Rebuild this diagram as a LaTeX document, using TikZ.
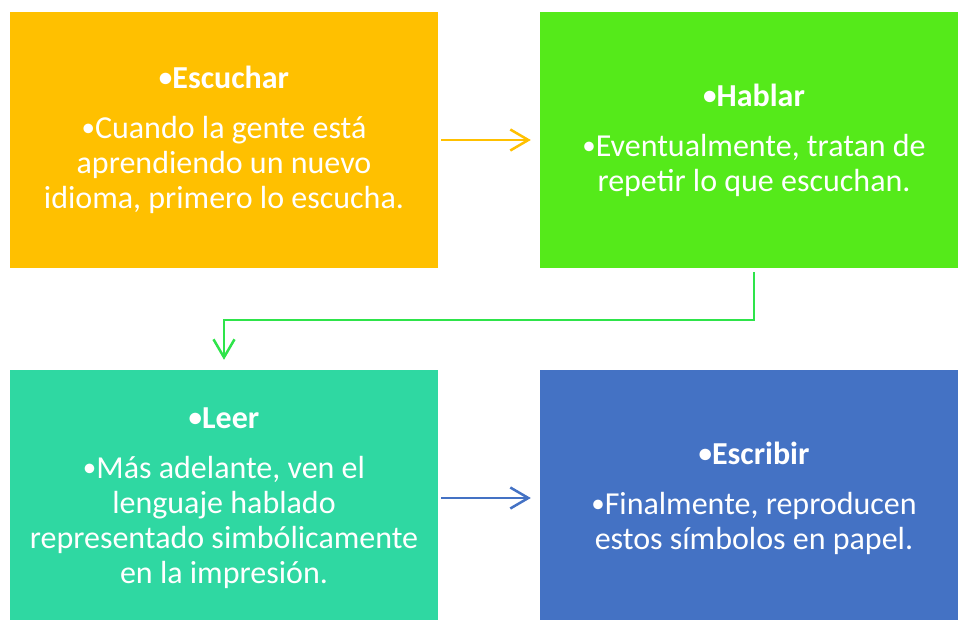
\documentclass[tikz,border=0pt]{standalone}
\usepackage{fontspec}
\setmainfont{Carlito}
\usetikzlibrary{positioning, arrows.meta}
\definecolor{naranja}{HTML}{FFC000}
\definecolor{verde}{HTML}{55EA1A}
\definecolor{verdelinea}{HTML}{2EE44A}
\definecolor{turquesa}{HTML}{2FD8A2}
\definecolor{azul}{HTML}{4472C4}
\newcommand{\bala}{\raisebox{2pt}{\fontsize{27}{35}\selectfont •}}
\begin{document}
\begin{tikzpicture}[x=1pt, y=-1pt,
    paso/.style={minimum width=428pt, minimum height=256pt, inner sep=0pt,
        align=center, text=white, font=\fontsize{32}{35}\selectfont},
    flecha/.style={line width=2.5pt, -{Straight Barb[length=18pt, width=21pt, line width=2.5pt]},
        shorten <=3pt, shorten >=9pt}]
    \useasboundingbox (0,0) rectangle (958,620);

    % Bloques
    \node[paso, fill=naranja] (escuchar) at (224,140)
        {\textbf{\bala Escuchar}\\[15pt]\bala Cuando la gente está\\aprendiendo un nuevo\\idioma, primero lo escucha.};
    \node[paso, fill=verde] (hablar) at (754,140)
        {\textbf{\bala Hablar}\\[15pt]\bala Eventualmente, tratan de\\repetir lo que escuchan.};
    \node[paso, fill=turquesa] (leer) at (224,498)
        {\textbf{\bala Leer}\\[15pt]\bala Más adelante, ven el\\lenguaje hablado\\representado simbólicamente\\en la impresión.};
    \node[paso, fill=azul] (escribir) at (754,498)
        {\textbf{\bala Escribir}\\[15pt]\bala Finalmente, reproducen\\estos símbolos en papel.};

    % Flechas
    \draw[flecha, naranja] (escuchar) -- (hablar);
    \draw[flecha, verdelinea, shorten <=4pt, shorten >=10pt] (hablar.south) -- ++(0,52) -| (leer.north);
    \draw[flecha, azul] (leer) -- (escribir);
\end{tikzpicture}
\end{document}
